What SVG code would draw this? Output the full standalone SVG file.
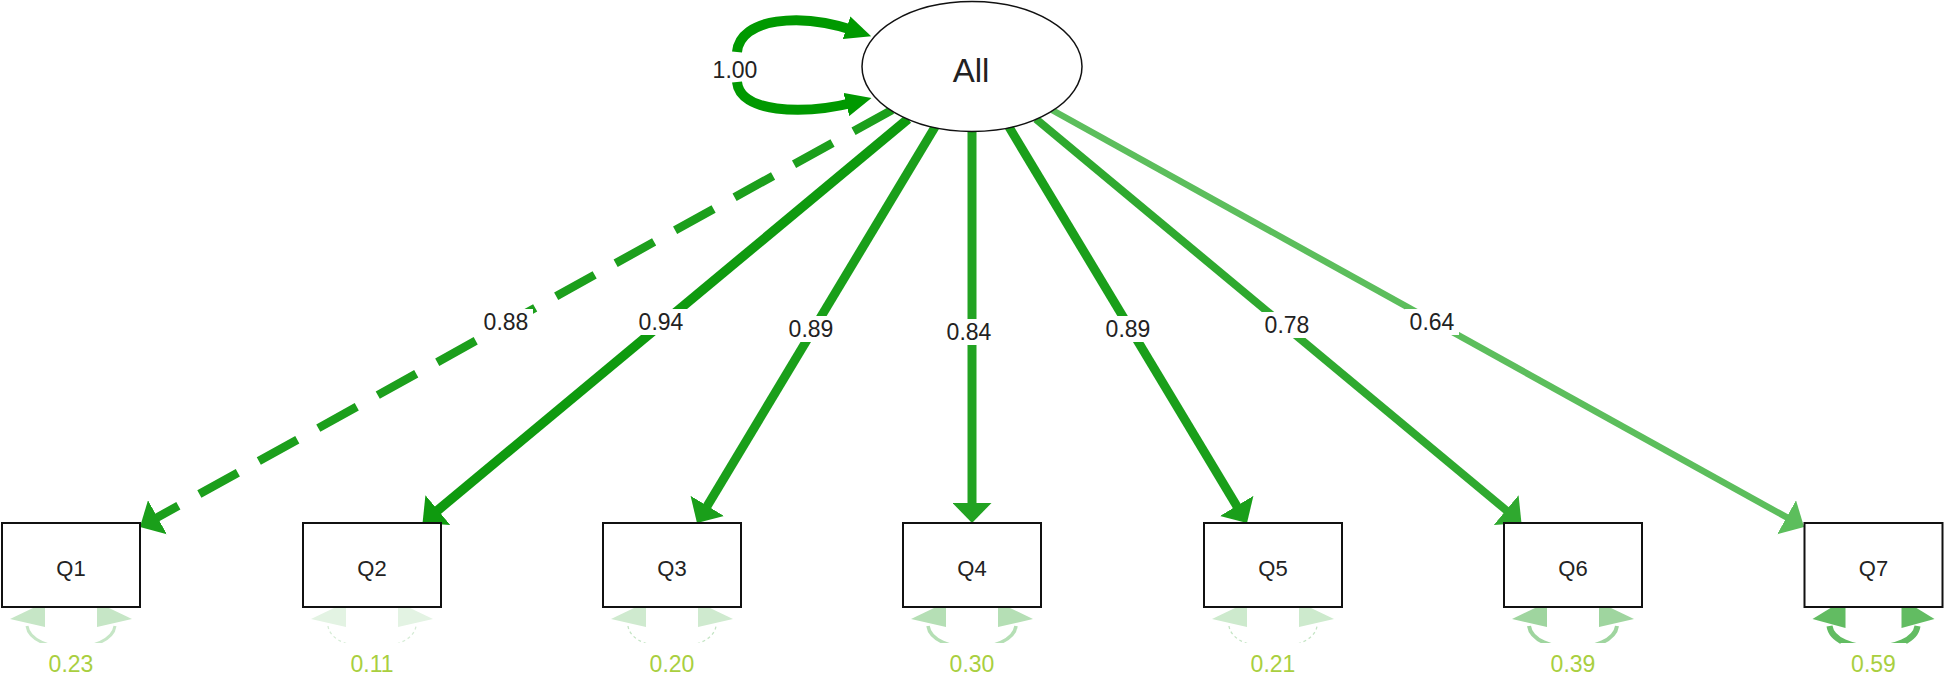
<svg xmlns="http://www.w3.org/2000/svg" width="1944" height="674" viewBox="0 0 1944 674">
<style>
.box{fill:#fff;stroke:#111;stroke-width:2}
.ell{fill:#fff;stroke:#111;stroke-width:1.5}
.nl{font-family:"Liberation Sans",Arial,sans-serif;font-size:22px;fill:#222;text-anchor:middle}
.el{font-family:"Liberation Sans",Arial,sans-serif;font-size:23px;fill:#222;text-anchor:middle}
.rl{font-family:"Liberation Sans",Arial,sans-serif;font-size:23px;fill:#a9cf3f;text-anchor:middle}
.bg{fill:#fff}
.ld{fill:none;stroke-linecap:butt}
</style>
<defs>
<marker id="aL" viewBox="0 0 26 24" markerWidth="26" markerHeight="24" markerUnits="userSpaceOnUse" refX="10" refY="12" orient="auto"><path d="M0,0 L26,12 L0,24 Z" fill="#009900"/></marker>
<marker id="a94" viewBox="0 0 20 39" markerWidth="20" markerHeight="39" markerUnits="userSpaceOnUse" refX="6" refY="19.5" orient="auto"><path d="M0,0 L20,19.5 L0,39 Z" fill="#0f9a0f"/></marker>
<marker id="a89" viewBox="0 0 20 39" markerWidth="20" markerHeight="39" markerUnits="userSpaceOnUse" refX="6" refY="19.5" orient="auto"><path d="M0,0 L20,19.5 L0,39 Z" fill="#1a9f1a"/></marker>
<marker id="a84" viewBox="0 0 20 39" markerWidth="20" markerHeight="39" markerUnits="userSpaceOnUse" refX="6" refY="19.5" orient="auto"><path d="M0,0 L20,19.5 L0,39 Z" fill="#22a322"/></marker>
<marker id="a78" viewBox="0 0 20 39" markerWidth="20" markerHeight="39" markerUnits="userSpaceOnUse" refX="6" refY="19.5" orient="auto"><path d="M0,0 L20,19.5 L0,39 Z" fill="#2fa92f"/></marker>
<marker id="a64" viewBox="0 0 20 39" markerWidth="20" markerHeight="39" markerUnits="userSpaceOnUse" refX="6" refY="19.5" orient="auto"><path d="M0,0 L20,19.5 L0,39 Z" fill="#5cbe5c"/></marker>
</defs>

<g id="connectors">
  <!-- latent variance loop -->
  <path class="ld" d="M737,52 C740,18 800,12 856,31" stroke="#009900" stroke-width="10" marker-end="url(#aL)"/>
  <path class="ld" d="M737,82 C740,112 800,116 856,102" stroke="#009900" stroke-width="10" marker-end="url(#aL)"/>
  <text class="el" x="735" y="78">1.00</text>

  <!-- loadings -->
  <path class="ld" d="M892,110 L152.2,520.2" stroke="#1c9f1c" stroke-width="8.5" stroke-dasharray="44 24" marker-end="url(#a89)"/>
  <path class="ld" d="M908,119 L433.3,514" stroke="#0f9a0f" stroke-width="9.5" marker-end="url(#a94)"/>
  <path class="ld" d="M935,127 L704.2,511" stroke="#1a9f1a" stroke-width="9" marker-end="url(#a89)"/>
  <path class="ld" d="M972,131 L972,509" stroke="#22a322" stroke-width="9" marker-end="url(#a84)"/>
  <path class="ld" d="M1009,127 L1239.8,511" stroke="#1a9f1a" stroke-width="9" marker-end="url(#a89)"/>
  <path class="ld" d="M1036,119 L1510.7,514" stroke="#2fa92f" stroke-width="8" marker-end="url(#a78)"/>
  <path class="ld" d="M1052,110 L1791.8,520.2" stroke="#5cbe5c" stroke-width="6.5" marker-end="url(#a64)"/>

  <rect class="bg" x="479" y="309" width="54" height="26"/><text class="el" x="506" y="330">0.88</text>
  <rect class="bg" x="634" y="309" width="54" height="26"/><text class="el" x="661" y="330">0.94</text>
  <rect class="bg" x="784" y="316" width="54" height="26"/><text class="el" x="811" y="337">0.89</text>
  <rect class="bg" x="942" y="319" width="54" height="26"/><text class="el" x="969" y="340">0.84</text>
  <rect class="bg" x="1101" y="316" width="54" height="26"/><text class="el" x="1128" y="337">0.89</text>
  <rect class="bg" x="1260" y="312" width="54" height="26"/><text class="el" x="1287" y="333">0.78</text>
  <rect class="bg" x="1405" y="309" width="54" height="26"/><text class="el" x="1432" y="330">0.64</text>

  <!-- residual variances -->
  <g id="res1" fill="#c6e6c6" stroke="#c6e6c6">
    <path d="M27,626 C31,655 111,655 115,626" fill="none" stroke-width="3"/>
    <polygon stroke="none" points="33,608 45,608 45,627 10,619"/>
    <polygon stroke="none" points="109,608 97,608 97,627 132,619"/>
  </g>
  <g id="res2" fill="#e3f3e3" stroke="#d6ecd6">
    <path d="M328,626 C332,655 412,655 416,626" fill="none" stroke-width="1.3" stroke-dasharray="3 3"/>
    <polygon stroke="none" points="334,608 346,608 346,627 311,619"/>
    <polygon stroke="none" points="410,608 398,608 398,627 433,619"/>
  </g>
  <g id="res3" fill="#cfeacf" stroke="#c4e4c4">
    <path d="M628,626 C632,655 712,655 716,626" fill="none" stroke-width="1.3" stroke-dasharray="3 3"/>
    <polygon stroke="none" points="634,608 646,608 646,627 611,619"/>
    <polygon stroke="none" points="710,608 698,608 698,627 733,619"/>
  </g>
  <g id="res4" fill="#b5dfb5" stroke="#b5dfb5">
    <path d="M928,626 C932,655 1012,655 1016,626" fill="none" stroke-width="3.5"/>
    <polygon stroke="none" points="934,608 946,608 946,627 911,619"/>
    <polygon stroke="none" points="1010,608 998,608 998,627 1033,619"/>
  </g>
  <g id="res5" fill="#cdeacd" stroke="#c4e4c4">
    <path d="M1229,626 C1233,655 1313,655 1317,626" fill="none" stroke-width="1.3" stroke-dasharray="3 3"/>
    <polygon stroke="none" points="1235,608 1247,608 1247,627 1212,619"/>
    <polygon stroke="none" points="1311,608 1299,608 1299,627 1334,619"/>
  </g>
  <g id="res6" fill="#9fd59f" stroke="#9fd59f">
    <path d="M1529,626 C1533,655 1613,655 1617,626" fill="none" stroke-width="4"/>
    <polygon stroke="none" points="1535,608 1547,608 1547,627 1512,619"/>
    <polygon stroke="none" points="1611,608 1599,608 1599,627 1634,619"/>
  </g>
  <g id="res7" fill="#62bc62" stroke="#62bc62">
    <path d="M1829.5,626 C1833.5,655 1913.5,655 1917.5,626" fill="none" stroke-width="6"/>
    <polygon stroke="none" points="1830.5,608 1845.5,608 1845.5,628 1812.5,619"/>
    <polygon stroke="none" points="1916.5,608 1901.5,608 1901.5,628 1934.5,619"/>
  </g>

  <rect class="bg" x="38" y="643" width="66" height="31"/><text class="rl" x="71" y="672">0.23</text>
  <rect class="bg" x="339" y="643" width="66" height="31"/><text class="rl" x="372" y="672">0.11</text>
  <rect class="bg" x="639" y="643" width="66" height="31"/><text class="rl" x="672" y="672">0.20</text>
  <rect class="bg" x="939" y="643" width="66" height="31"/><text class="rl" x="972" y="672">0.30</text>
  <rect class="bg" x="1240" y="643" width="66" height="31"/><text class="rl" x="1273" y="672">0.21</text>
  <rect class="bg" x="1540" y="643" width="66" height="31"/><text class="rl" x="1573" y="672">0.39</text>
  <rect class="bg" x="1840.5" y="643" width="66" height="31"/><text class="rl" x="1873.5" y="672">0.59</text>
</g>

<g id="All"><ellipse class="ell" cx="972" cy="66.5" rx="110" ry="65"/><text x="971" y="82" font-family="Liberation Sans, Arial, sans-serif" font-size="33" fill="#222" text-anchor="middle">All</text></g>
<g id="Q1"><rect class="box" x="2" y="523" width="138" height="84"/><text class="nl" x="71" y="576">Q1</text></g>
<g id="Q2"><rect class="box" x="303" y="523" width="138" height="84"/><text class="nl" x="372" y="576">Q2</text></g>
<g id="Q3"><rect class="box" x="603" y="523" width="138" height="84"/><text class="nl" x="672" y="576">Q3</text></g>
<g id="Q4"><rect class="box" x="903" y="523" width="138" height="84"/><text class="nl" x="972" y="576">Q4</text></g>
<g id="Q5"><rect class="box" x="1204" y="523" width="138" height="84"/><text class="nl" x="1273" y="576">Q5</text></g>
<g id="Q6"><rect class="box" x="1504" y="523" width="138" height="84"/><text class="nl" x="1573" y="576">Q6</text></g>
<g id="Q7"><rect class="box" x="1804.5" y="523" width="138" height="84"/><text class="nl" x="1873.5" y="576">Q7</text></g>
</svg>
